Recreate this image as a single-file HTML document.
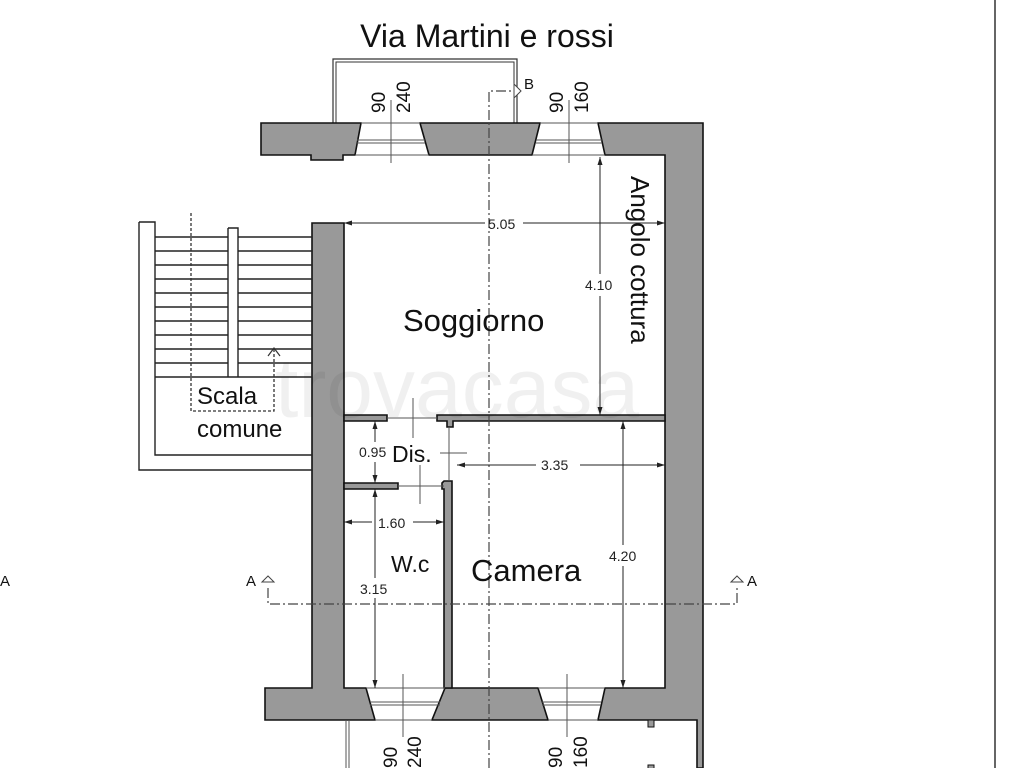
<!DOCTYPE html>
<html><head><meta charset="utf-8"><style>
html,body{margin:0;padding:0;background:#fff;width:1024px;height:768px;overflow:hidden}
svg{display:block;font-family:"Liberation Sans",Arial,sans-serif}
</style></head><body>
<svg width="1024" height="768" viewBox="0 0 1024 768" xmlns="http://www.w3.org/2000/svg">
<rect width="1024" height="768" fill="#fff"/>
<line x1="995" y1="0" x2="995" y2="768" stroke="#333" stroke-width="1.5"/>
<text x="487" y="47" font-size="32" text-anchor="middle" fill="#111">Via Martini e rossi</text>

<path d="M333 123 V59 H517 V123" fill="none" stroke="#333" stroke-width="1.2"/>
<path d="M336 123 V62 H514 V123" fill="none" stroke="#333" stroke-width="1"/>

<g fill="#999" stroke="#111" stroke-width="1.6">
<path d="M261 123 H361 L355 155 H343 V160 H311 V155 H261 Z"/>
<path d="M420 123 H540 L532 155 H429 Z"/>
<path d="M598 123 H703 V768 H697 V720 H598 L605 688 H665 V155 H605 Z"/>
<path d="M312 223 H344 V688 H366 L375 720 H265 V688 H312 Z"/>
<path d="M445 688 H538 L548 720 H432 Z"/>
<path d="M344 415 H387 V421 H344 Z"/>
<path d="M437 415 H665 V421 H453 V427 H447 V421 H437 Z"/>
<path d="M344 483 H398 V489 H344 Z"/>
<path d="M444 481 H452 V688 H444 V489 H442 V483 Z"/>
</g>
<rect x="648" y="720" width="6" height="7" fill="#999" stroke="#111"/>
<rect x="648" y="765" width="6" height="5" fill="#999" stroke="#111"/>

<g stroke="#555" stroke-width="1" fill="none">
<line x1="361" y1="123" x2="420" y2="123"/><line x1="357" y1="140" x2="425" y2="140"/><line x1="357" y1="143" x2="425" y2="143"/><line x1="355" y1="155" x2="429" y2="155"/>
<line x1="540" y1="123" x2="598" y2="123"/><line x1="536" y1="140" x2="602" y2="140"/><line x1="536" y1="143" x2="602" y2="143"/><line x1="532" y1="155" x2="605" y2="155"/>
<line x1="366" y1="688" x2="445" y2="688"/><line x1="370" y1="702" x2="440" y2="702"/><line x1="370" y1="705" x2="440" y2="705"/><line x1="375" y1="720" x2="432" y2="720"/>
<line x1="538" y1="688" x2="605" y2="688"/><line x1="542" y1="702" x2="601" y2="702"/><line x1="542" y1="705" x2="601" y2="705"/><line x1="548" y1="720" x2="598" y2="720"/>
<line x1="391" y1="100" x2="391" y2="163"/><line x1="569" y1="100" x2="569" y2="163"/>
<line x1="403" y1="674" x2="403" y2="737"/><line x1="567" y1="674" x2="567" y2="737"/>
<line x1="346" y1="720" x2="346" y2="768"/><line x1="349" y1="720" x2="349" y2="768"/>
<line x1="387" y1="418" x2="437" y2="418"/><line x1="398" y1="486" x2="444" y2="486"/>
<line x1="413" y1="398" x2="413" y2="438"/><line x1="440" y1="453" x2="467" y2="453"/><line x1="420" y1="465" x2="420" y2="504"/>
<line x1="449" y1="427" x2="449" y2="481"/>
</g>
<g font-size="19" fill="#111">
<text transform="translate(385,113) rotate(-90)">90</text>
<text transform="translate(410,113) rotate(-90)">240</text>
<text transform="translate(563,113) rotate(-90)">90</text>
<text transform="translate(588,113) rotate(-90)">160</text>
<text transform="translate(397,768) rotate(-90)">90</text>
<text transform="translate(421,768) rotate(-90)">240</text>
<text transform="translate(562,768) rotate(-90)">90</text>
<text transform="translate(587,768) rotate(-90)">160</text>
</g>

<g stroke="#222" stroke-width="1.4" fill="none">
<path d="M139 222 H155 V455 H312 M139 222 V470 H312"/>
<path d="M228 228 H238 V377 M228 228 V377"/>
<path d="M155 237 H228 M238 237 H312 M155 251 H228 M238 251 H312 M155 265 H228 M238 265 H312 M155 279 H228 M238 279 H312 M155 293 H228 M238 293 H312 M155 307 H228 M238 307 H312 M155 321 H228 M238 321 H312 M155 335 H228 M238 335 H312 M155 349 H228 M238 349 H312 M155 363 H228 M238 363 H312 M155 377 H312"/>
</g>
<path d="M191 213 V411 H274 V349" fill="none" stroke="#333" stroke-width="1.3" stroke-dasharray="3,2"/>
<path d="M268 356 L274 348 L280 356" fill="none" stroke="#333" stroke-width="1.2"/>
<text x="197" y="404" font-size="24" fill="#111">Scala</text>
<text x="197" y="437" font-size="24" fill="#111">comune</text>

<g stroke="#444" stroke-width="1.2" fill="none" stroke-dasharray="10,3,2,3">
<path d="M489 768 V91 H514"/>
<path d="M268 588 V604 H737 V588"/>
</g>
<path d="M514 84 L521 91 L514 98 Z" fill="#fff" stroke="#444"/>
<text x="524" y="89" font-size="15" fill="#111">B</text>
<path d="M262 582 L268 576 L274 582 Z" fill="#fff" stroke="#444"/>
<path d="M731 582 L737 576 L743 582 Z" fill="#fff" stroke="#444"/>
<text x="246" y="586" font-size="15" fill="#111">A</text>
<text x="747" y="586" font-size="15" fill="#111">A</text>
<text x="0" y="586" font-size="15" fill="#111">A</text>

<g stroke="#222" stroke-width="1" fill="none">
<line x1="344" y1="223" x2="485" y2="223"/><line x1="523" y1="223" x2="665" y2="223"/>
<line x1="600" y1="157" x2="600" y2="274"/><line x1="600" y1="296" x2="600" y2="415"/>
<line x1="457" y1="465" x2="536" y2="465"/><line x1="580" y1="465" x2="665" y2="465"/>
<line x1="623" y1="421" x2="623" y2="545"/><line x1="623" y1="566" x2="623" y2="688"/>
<line x1="375" y1="421" x2="375" y2="442"/><line x1="375" y1="462" x2="375" y2="483"/>
<line x1="344" y1="522" x2="372" y2="522"/><line x1="413" y1="522" x2="444" y2="522"/>
<line x1="375" y1="489" x2="375" y2="578"/><line x1="375" y1="598" x2="375" y2="688"/>
</g>
<g fill="#222">
<path d="M344 223 l8 -2.5 v5 Z"/><path d="M665 223 l-8 -2.5 v5 Z"/>
<path d="M600 157 l-2.5 8 h5 Z"/><path d="M600 415 l-2.5 -8 h5 Z"/>
<path d="M457 465 l8 -2.5 v5 Z"/><path d="M665 465 l-8 -2.5 v5 Z"/>
<path d="M623 421 l-2.5 8 h5 Z"/><path d="M623 688 l-2.5 -8 h5 Z"/>
<path d="M375 421 l-2.5 8 h5 Z"/><path d="M375 483 l-2.5 -8 h5 Z"/>
<path d="M375 489 l-2.5 8 h5 Z"/><path d="M375 688 l-2.5 -8 h5 Z"/>
<path d="M344 522 l8 -2.5 v5 Z"/><path d="M444 522 l-8 -2.5 v5 Z"/>
</g>
<g font-size="14" fill="#222">
<text x="488" y="229">5.05</text>
<text x="585" y="290">4.10</text>
<text x="541" y="470">3.35</text>
<text x="609" y="561">4.20</text>
<text x="359" y="457">0.95</text>
<text x="378" y="528">1.60</text>
<text x="360" y="594">3.15</text>
</g>
<text x="403" y="331" font-size="31" fill="#111">Soggiorno</text>
<text x="392" y="462" font-size="23" fill="#111">Dis.</text>
<text x="391" y="572" font-size="23" fill="#111">W.c</text>
<text x="471" y="581" font-size="31" fill="#111">Camera</text>
<text transform="translate(631,176) rotate(90)" font-size="26" fill="#111">Angolo cottura</text>
<text x="275" y="417" font-size="84" fill="#000" fill-opacity="0.06">trovacasa</text>
</svg>
</body></html>
